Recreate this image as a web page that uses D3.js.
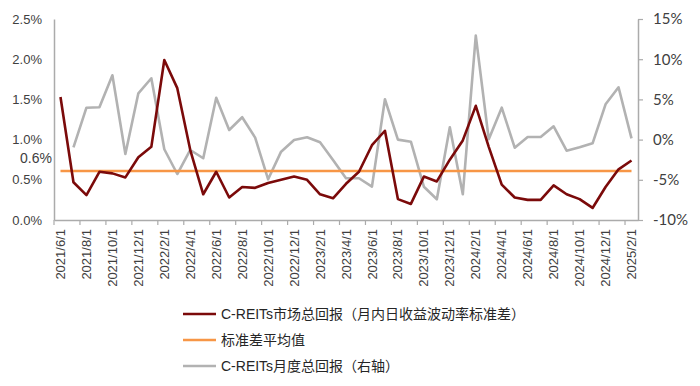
<!DOCTYPE html>
<html>
<head>
<meta charset="utf-8">
<script src="https://cdn.jsdelivr.net/npm/d3@7"></script>
<style>
  body { margin: 0; background: #fff; }
  svg { display: block; font-family: "Liberation Sans", Arial, "Noto Sans CJK SC", sans-serif; }
</style>
</head>
<body>
<svg id="chart" width="700" height="386"></svg>
<script>
// months 2021/6/1 .. 2025/2/1
var months = [];
for (var yr = 2021, mo = 6; yr < 2025 || mo <= 2; ) {
  months.push(yr + "/" + mo + "/1");
  mo++;
  if (mo > 12) { mo = 1; yr++; }
}

// C-REITs 市场总回报 月内日收益波动率标准差 (%), left axis
var volatility = [1.53, 0.47, 0.31, 0.60, 0.58, 0.53, 0.78, 0.91, 1.99, 1.64,
                  0.87, 0.32, 0.60, 0.28, 0.41, 0.40, 0.46, 0.50, 0.54, 0.50,
                  0.32, 0.27, 0.45, 0.60, 0.93, 1.11, 0.26, 0.20, 0.54, 0.48,
                  0.75, 0.99, 1.42, 0.91, 0.44, 0.28, 0.25, 0.25, 0.43, 0.32,
                  0.26, 0.15, 0.41, 0.63, 0.74];

// 标准差平均值 (%)
var avgVol = 0.61;

// C-REITs 月度总回报 (%), right axis; no value for the first month
var monthlyReturn = [null, -0.96, 3.97, 4.02, 8.0, -1.79, 5.76, 7.63, -1.2, -4.28,
                     -1.29, -2.32, 5.21, 1.2, 2.78, 0.24, -4.94, -1.5, -0.05, 0.29,
                     -0.33, -2.54, -4.81, -4.81, -5.85, 5.02, 0.0, -0.26, -5.86, -7.42,
                     1.53, -6.8, 12.93, 0.04, 3.97, -1.0, 0.33, 0.33, 1.65, -1.38,
                     -0.96, -0.46, 4.39, 6.51, 0.16];

var leftTicks = [0, 0.5, 1.0, 1.5, 2.0, 2.5];
var rightTicks = [-10, -5, 0, 5, 10, 15];

var legendItems = [
  { label: "C-REITs市场总回报（月内日收益波动率标准差）", color: "#7B0A0A" },
  { label: "标准差平均值", color: "#F79646" },
  { label: "C-REITs月度总回报（右轴）", color: "#B2B2B2" }
];

var svg = d3.select("#chart");
var plotLeft = 54, plotRight = 638, plotTop = 19, plotBottom = 220;
var axisColor = "#ABABAB";
var textColor = "#404040";

var x = d3.scaleBand().domain(months).range([plotLeft, plotRight]).padding(0);
var yL = d3.scaleLinear().domain([0, 2.5]).range([plotBottom, plotTop]);
var yR = d3.scaleLinear().domain([-10, 15]).range([plotBottom, plotTop]);
function cx(d, i) { return x(months[i]) + x.bandwidth() / 2; }

// left axis
var gl = svg.append("g").attr("transform", "translate(" + plotLeft + ",0)")
  .call(d3.axisLeft(yL).tickValues(leftTicks).tickSize(0).tickPadding(12)
    .tickFormat(function (d) { return d.toFixed(1) + "%"; }));
gl.select(".domain").attr("stroke", axisColor).attr("stroke-width", 1.5);
gl.selectAll("text").attr("font-size", 13).attr("fill", textColor)
  .attr("font-family", "'Liberation Sans', Arial, sans-serif");

// right axis
var gr = svg.append("g").attr("transform", "translate(" + plotRight + ",0)")
  .call(d3.axisRight(yR).tickValues(rightTicks).tickSize(5).tickSizeOuter(0).tickPadding(10)
    .tickFormat(function (d) { return d + "%"; }));
gr.select(".domain").attr("stroke", axisColor).attr("stroke-width", 1.5);
gr.selectAll("line").attr("stroke", axisColor).attr("stroke-width", 1.2);
gr.selectAll("text").attr("font-size", 15).attr("fill", textColor)
  .attr("font-family", "Lato, 'Open Sans', sans-serif");

// bottom axis
var labelled = months.filter(function (d, i) { return i % 2 === 0; });
var gb = svg.append("g").attr("transform", "translate(0," + plotBottom + ")")
  .call(d3.axisBottom(x).tickValues(labelled).tickSize(0).tickSizeOuter(0).tickPadding(0));
gb.select(".domain").attr("stroke", axisColor).attr("stroke-width", 1.5);
gb.selectAll(".tick text")
  .attr("font-size", 13).attr("fill", textColor)
  .attr("text-anchor", "end")
  .attr("transform", "rotate(-90)")
  .attr("x", -9).attr("y", 0).attr("dy", "0.35em");
gb.selectAll(".tickmark").data(labelled).enter().append("line")
  .attr("x1", function (d) { return x(d); }).attr("x2", function (d) { return x(d); })
  .attr("y1", 0).attr("y2", 5)
  .attr("stroke", axisColor).attr("stroke-width", 1.2);

// lines
var lineL = d3.line().x(cx).y(function (d) { return yL(d); });
var lineR = d3.line().defined(function (d) { return d !== null; }).x(cx).y(function (d) { return yR(d); });

svg.append("path").datum(monthlyReturn).attr("d", lineR)
  .attr("fill", "none").attr("stroke", "#B2B2B2").attr("stroke-width", 2.6)
  .attr("stroke-linejoin", "round");
svg.append("path").datum(volatility.map(function () { return avgVol; })).attr("d", lineL)
  .attr("fill", "none").attr("stroke", "#F79646").attr("stroke-width", 2.6);
svg.append("path").datum(volatility).attr("d", lineL)
  .attr("fill", "none").attr("stroke", "#7B0A0A").attr("stroke-width", 2.6)
  .attr("stroke-linejoin", "round");

// average label
svg.append("text").attr("x", 52).attr("y", yL(avgVol) - 13)
  .attr("text-anchor", "end").attr("dy", "0.35em")
  .attr("font-size", 14).attr("fill", textColor).text("0.6%");

// legend
var lg = svg.append("g").attr("transform", "translate(183,314)");
var item = lg.selectAll("g").data(legendItems).enter().append("g")
  .attr("transform", function (d, i) { return "translate(0," + (i * 26) + ")"; });
item.append("line").attr("x1", 0).attr("x2", 33).attr("y1", 0).attr("y2", 0)
  .attr("stroke", function (d) { return d.color; }).attr("stroke-width", 2.6);
item.append("text").attr("x", 38).attr("y", 0).attr("dy", "0.35em")
  .attr("font-size", 14).attr("fill", "#262626")
  .text(function (d) { return d.label; });
</script>
</body>
</html>
